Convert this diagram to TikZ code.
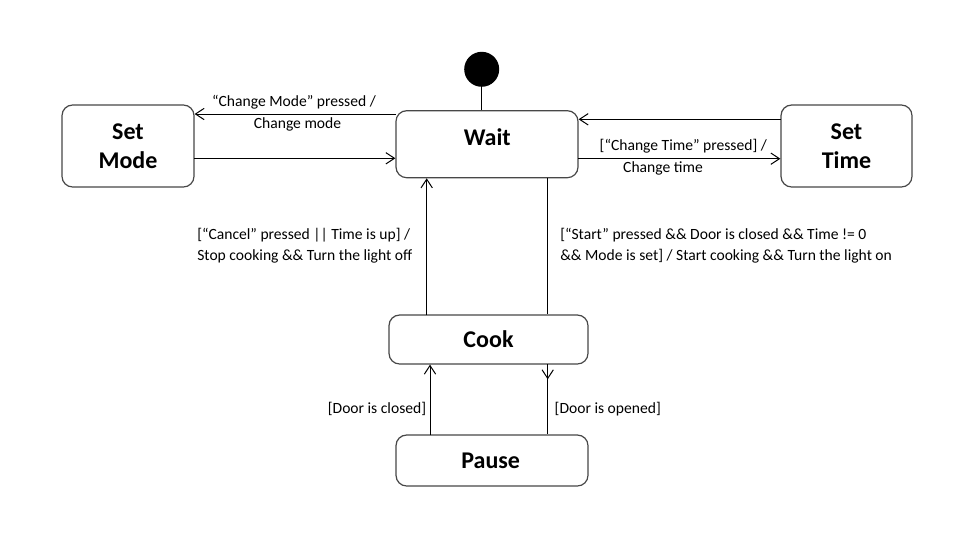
\documentclass[tikz,border=0pt]{standalone}
\usepackage{fontspec}
\setmainfont{Carlito}
\usetikzlibrary{arrows.meta,decorations.markings}
\begin{document}
\begin{tikzpicture}[x=0.75pt,y=-0.75pt,
  state/.style={draw=black!72,line width=0.9pt,rounded corners=8pt,inner sep=0pt,fill=white},
  stname/.style={font=\fontsize{18}{21.5}\selectfont\bfseries,align=center,inner sep=0pt},
  lbl/.style={font=\fontsize{11.7}{15.75}\selectfont,inner sep=0pt},
  conn/.style={draw=black,line width=0.75pt},
  arr/.style={conn,-{Straight Barb[length=6.5pt,width=8.5pt]}},
  midarr/.style={conn,postaction={decorate,decoration={markings,mark=at position 11.5pt with {\arrow{Straight Barb[length=6.5pt,width=8.5pt]}}}}}]
\useasboundingbox (0,0) rectangle (978,543);
\fill[white] (0,0) rectangle (978,543);

% initial state
\node[circle,fill=black,minimum size=26.25pt,inner sep=0pt] (init) at (481.7,69.3) {};

% states
\node[state,minimum width=136.5pt,minimum height=50.25pt] (wait) at (487,144.2) {};
\node[stname] (waitT) at (487.3,136.7) {Wait};
\node[state,minimum width=99pt,minimum height=61.5pt] (setmode) at (128,146) {};
\node[stname] (setmodeT) at (128,146.5) {Set\\Mode};
\node[state,minimum width=98.25pt,minimum height=61.5pt] (settime) at (846.5,146) {};
\node[stname] (settimeT) at (846.5,146.5) {Set\\Time};
\node[state,minimum width=149.25pt,minimum height=36.75pt] (cook) at (488.5,339.5) {};
\node[stname] (cookT) at (488.5,339.5) {Cook};
\node[state,minimum width=144pt,minimum height=38.25pt] (pause) at (492,460.5) {};
\node[stname] (pauseT) at (490.7,460.5) {Pause};

% connector end points
\coordinate (wA) at (396,114);
\coordinate (mB) at (194,158.3);
\coordinate (tA) at (780.5,119.3);
\coordinate (tB) at (578,158.7);
\coordinate (cA) at (426.7,315);
\coordinate (cB) at (547.7,177.7);
\coordinate (pA) at (430,435);
\coordinate (pB) at (547.7,364);

% connectors
\draw[conn] (init.south) -- (init.south |- wait.north);
\draw[arr] (wA) -- (wA -| setmode.east);
\draw[arr] (mB) -- (mB -| wait.west);
\draw[arr] (tA) -- (tA -| wait.east);
\draw[arr] (tB) -- (tB -| settime.west);
\draw[arr] (cA) -- (cA |- wait.south);
\draw[conn] (cB) -- (cB |- cook.north);
\draw[arr] (pA) -- (pA |- cook.south);
\draw[midarr] (pB) -- (pB |- pause.north);

% labels
\node[lbl] (l1a) at (294,102.3) {“Change Mode” pressed /};
\node[lbl] (l1b) at (297.5,124.3) {Change mode};
\node[lbl] (l2a) at (683.3,146) {[“Change Time” pressed] /};
\node[lbl] (l2b) at (663,168.3) {Change time};
\node[lbl,anchor=west,align=left] (l3) at (197,246) {[“Cancel” pressed || Time is up] /\\Stop cooking \&\& Turn the light off};
\node[lbl,anchor=west,align=left] (l4) at (560,246) {[“Start” pressed \&\& Door is closed \&\& Time != 0\\\&\& Mode is set] / Start cooking \&\& Turn the light on};
\node[lbl] (l5) at (377,409) {[Door is closed]};
\node[lbl] (l6) at (607.8,409) {[Door is opened]};
\end{tikzpicture}
\end{document}
